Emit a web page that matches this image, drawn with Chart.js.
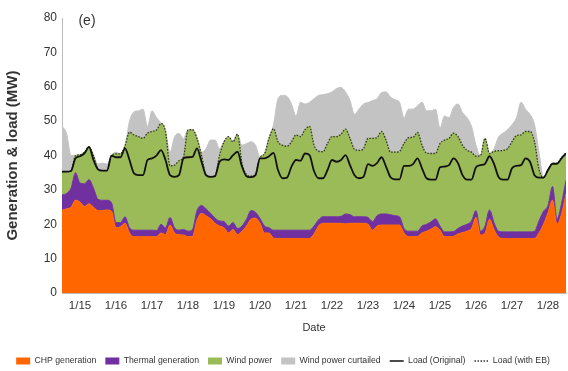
<!DOCTYPE html>
<html>
<head>
<meta charset="utf-8">
<script src="https://cdn.jsdelivr.net/npm/chart.js@4"></script>
<style>
  html, body { margin: 0; padding: 0; background: #fff; }
</style>
</head>
<body>
<canvas id="myChart" width="568" height="371"></canvas>
<script>
// 3-hourly values, 1/15 00:00 .. 1/29 00:00 (MW)
const dayLabels = ['1/15', '1/16', '1/17', '1/18', '1/19', '1/20', '1/21',
                   '1/22', '1/23', '1/24', '1/25', '1/26', '1/27', '1/28']

const chp = [
  24.1, 24.5, 25, 27, 26.5, 25.2, 26, 25,
  24, 24, 24.2, 23.8, 19, 19.3, 20.3, 17.5,
  16.4, 16.4, 16.4, 16.4, 16.4, 16.4, 17.5, 17,
  19.8, 17.5, 17, 16.9, 16.4, 16.5, 21.2, 23.2,
  22.5, 21.6, 20.3, 19.5, 19, 17.5, 18.5, 17,
  18, 19.5, 21.5, 21.8, 20.3, 17.5, 17.5, 16,
  15.9, 15.9, 15.9, 15.9, 15.9, 15.9, 15.9, 15.9,
  17.2, 19.5, 20.3, 20.3, 20.3, 20.3, 20.3, 20.1,
  20.3, 20.3, 20.3, 20.3, 20, 18.3, 19.5, 19.8,
  19.8, 19.8, 19.8, 19.8, 17.5, 16.4, 16.4, 16.5,
  17.5, 18, 18.6, 19.3, 18.3, 16.4, 16.4, 16.5,
  17.2, 17.6, 18, 18.8, 22, 16.9, 17.5, 21.5,
  18.5, 16.3, 15.9, 15.9, 15.9, 15.9, 15.9, 15.9,
  15.9, 15.9, 17.5, 20, 23.4, 27, 20, 23,
  28.9
]

const thermal = [
  4.4, 4.5, 5.5, 8, 5.5, 6.6, 7, 5.5,
  3.3, 3, 2.8, 2.5, 1.5, 1.2, 1.9, 1.5,
  1.9, 1.9, 1.9, 1.9, 1.9, 1.8, 2.5, 2,
  2.2, 1.5, 1.3, 1.6, 1.6, 2, 2.8, 2.3,
  2, 1.6, 1.5, 1.5, 1.8, 2, 2, 1.8,
  1.5, 2, 2.5, 1.7, 1.4, 2, 1.5, 2.3,
  2.4, 2.4, 2.4, 2.4, 2.4, 2.4, 2.4, 2.4,
  2.3, 1.8, 1.9, 1.9, 1.9, 1.9, 2, 2.9,
  2.5, 1.9, 1.9, 1.9, 2, 2.5, 3, 3.2,
  3.2, 3, 2.7, 2.4, 1.3, 1.6, 1.6, 1.5,
  2, 2, 2.1, 2.3, 1.2, 1.4, 1.4, 1.4,
  1.6, 1.9, 2, 2.2, 2, 1.1, 2, 2.7,
  2, 1.7, 1.9, 1.9, 1.9, 1.9, 1.9, 1.9,
  1.9, 2.1, 3.5, 3.8, 2.1, 4, 1.5, 3,
  3.9
]

const wind = [
  6.8, 6.3, 5, 5, 8.2, 9.2, 9.5, 9.5,
  8.7, 8.6, 8.6, 13.7, 20, 20, 20.6, 27.8,
  27.7, 27.2, 26.7, 28.2, 28.7, 29.2, 29.3, 28,
  15, 18.2, 20.2, 21.1, 29.4, 29, 21, 14.6,
  9.8, 10.6, 12.2, 19, 23.2, 26, 23.5, 27.4,
  18.2, 13, 10, 11, 17.8, 21, 26, 29.5,
  25.7, 24.7, 24.4, 25.7, 27.7, 27.2, 29.2, 30.2,
  23.5, 20, 18.9, 21.3, 23.3, 23.3, 23.9, 24.7,
  22.2, 19.6, 19.3, 19.8, 23, 24.2, 22.7, 24,
  21.5, 18.2, 18.5, 19, 24.7, 27.2, 27.3, 28.7,
  23.5, 20.7, 19.9, 19, 24, 26.7, 27.2, 28.6,
  26.7, 23.5, 21.5, 20, 15.8, 22, 25.5, 16.4,
  20.7, 23.4, 23.7, 24.2, 26.2, 28, 28.2, 29.2,
  29.2, 26, 15, 9.8, 10.3, 6.8, 16.3, 13.4,
  8
]

const curtailed = [
  13.2, 11.2, 4.5, 0, 0, 0, 0, 0,
  1.5, 2.2, 1.9, 0, 0.5, 0, 0, 3.2,
  6.7, 7.5, 8.5, 2, 6, 3.6, 0.2, 0,
  4, 8.2, 7.9, 5.3, 0.1, 0, 0, 0.9,
  7.7, 10.7, 10.5, 2, 0, 0, 0, 0,
  5.3, 9, 10, 8.5, 0, 0, 0, 1.2,
  12.5, 14.5, 14.5, 11, 5.5, 10, 7.5, 7,
  13.5, 16.2, 16.6, 14.5, 13, 14, 13.6, 10.8,
  11, 10.2, 12, 13, 10.4, 11, 11.3, 11.3,
  14, 16, 15.2, 14.3, 7.5, 8.3, 8.2, 7.8,
  12.5, 12.3, 12.4, 12.9, 4.5, 7, 6, 7.5,
  9.5, 9.5, 9.5, 7.5, 3.2, 0, 0, 0,
  0.8, 4, 5, 5.5, 5, 5.2, 9.5, 6.5,
  5, 5, 5, 0.2, 0, 0, 0, 0,
  0
]

const loadOriginal = [
  35.3, 35.3, 35.5, 39.2, 39.8, 40.6, 42.5, 38.7,
  36, 35.6, 35.6, 40, 39.5, 39.5, 42.1, 38.7,
  34.8, 34.3, 34.3, 38.7, 39.2, 40, 41.6, 38.7,
  34.3, 33.8, 34.3, 39.2, 39.5, 39.6, 42.1, 38.2,
  34.3, 33.8, 34, 38.2, 38.9, 38.7, 40.1, 41.1,
  36.8, 34, 33.7, 34.3, 39.2, 39.2, 39.8, 40.8,
  35.8, 33.4, 33.6, 36.8, 38.7, 38.5, 40.6, 40.1,
  35.5, 33.4, 33.4, 35.8, 38.7, 38.2, 38.7, 40.1,
  37.2, 34.3, 33.4, 33.8, 37.5, 37, 37.8, 39.5,
  36.8, 33.7, 33.1, 33.1, 37, 37, 37.5, 39.2,
  36.3, 33.4, 33, 33, 36.6, 36.8, 37.2, 39.2,
  37.8, 34.3, 33, 33, 36.6, 37.2, 37.6, 39.8,
  37.6, 33.8, 33, 33, 36.3, 37, 37.2, 39.2,
  38.2, 34.3, 33.6, 33.6, 35.8, 37.6, 37.6, 39.2,
  40.6
]

const loadWithEB = [
  35.3, 35.3, 35.5, 40, 40.2, 41, 42.5, 40,
  36, 35.6, 35.6, 40, 40.5, 40.5, 42.8, 46.8,
  46, 45.5, 45, 46.5, 47, 47.4, 49.3, 47,
  37, 37.2, 38.5, 39.6, 47.4, 47.5, 45, 40.1,
  34.3, 33.8, 34, 40, 44, 45.5, 44, 46.2,
  37.7, 34.5, 34, 34.5, 39.5, 40.5, 45, 47.8,
  44, 43, 42.7, 44, 46, 45.5, 47.5, 48.5,
  43, 41.3, 41.1, 43.5, 45.5, 45.5, 46.2, 47.7,
  45, 41.8, 41.5, 42, 45, 45, 45.2, 47,
  44.5, 41, 41, 41.2, 43.5, 45.2, 45.3, 46.7,
  43, 40.7, 40.6, 40.6, 43.5, 44.5, 45, 46.5,
  45.5, 43, 41.5, 41, 39.8, 40, 45, 40.6,
  41.2, 41.4, 41.5, 42, 44, 45.8, 46, 47,
  47, 44, 36, 33.6, 35.8, 37.8, 37.8, 39.4,
  40.8
]

const hours = chp.map((_, i) => i * 3)

const legendNames = ['CHP generation', 'Thermal generation', 'Wind power',
                     'Wind power curtailed', 'Load (Original)', 'Load (with EB)']
const colors = ['#FF6600', '#7030A0', '#9BBB59', '#C3C3C3', '#111111', '#333333']
const panelLabel = '(e)'

const fontFamily = '"Liberation Sans", Arial, sans-serif'

const area = (label, data, i, fill) => ({
    label: label,
    data: data,
    backgroundColor: colors[i],
    borderColor: colors[i],
    borderWidth: 1,
    fill: fill,
    pointRadius: 0,
    cubicInterpolationMode: 'monotone',
    order: 1
})

const panelLabelPlugin = {
    id: 'panelLabel',
    afterDraw(chart) {
        const { ctx, chartArea } = chart
        ctx.save()
        ctx.font = '14px ' + fontFamily
        ctx.fillStyle = '#333'
        ctx.textAlign = 'center'
        ctx.textBaseline = 'middle'
        ctx.fillText(panelLabel, chartArea.left + 25, chartArea.top + 3)
        ctx.restore()
    }
}

const data = {
    labels: hours,
    datasets: [
        area(legendNames[0], chp, 0, 'origin'),
        area(legendNames[1], thermal, 1, '-1'),
        area(legendNames[2], wind, 2, '-1'),
        area(legendNames[3], curtailed, 3, '-1'),
        {
            label: legendNames[4],
            data: loadOriginal,
            stack: 'orig',
            borderColor: colors[4],
            borderWidth: 1.8,
            fill: false,
            pointRadius: 0,
            cubicInterpolationMode: 'monotone',
            order: 0
        },
        {
            label: legendNames[5],
            data: loadWithEB,
            stack: 'eb',
            borderColor: colors[5],
            borderWidth: 1.3,
            borderDash: [1.5, 1.5],
            fill: false,
            pointRadius: 0,
            cubicInterpolationMode: 'monotone',
            order: 0
        }
    ]
}

const config = {
    type: 'line',
    data: data,
    options: {
        responsive: false,
        animation: false,
        events: [],
        layout: { padding: { left: 0, right: 2, top: 18, bottom: 0 } },
        scales: {
            x: {
                type: 'linear',
                min: 0,
                max: 336,
                afterBuildTicks: (s) => {
                    s.ticks = dayLabels.map((_, i) => ({ value: 12 + 24 * i }))
                },
                afterFit: (s) => { s.height = 54.6 },
                ticks: {
                    callback: (v, i) => dayLabels[i],
                    autoSkip: false,
                    maxRotation: 0,
                    padding: 6,
                    color: '#333',
                    font: { family: fontFamily, size: 11.5 }
                },
                grid: { display: false, drawTicks: false },
                border: { color: '#bbbbbb' },
                title: {
                    display: true,
                    text: 'Date',
                    color: '#333',
                    font: { family: fontFamily, size: 11 },
                    padding: { top: 0, bottom: 13.6 }
                }
            },
            y: {
                stacked: true,
                min: 0,
                max: 80,
                afterFit: (s) => { s.width = 62 },
                ticks: {
                    stepSize: 10,
                    padding: 5,
                    color: '#333',
                    font: { family: fontFamily, size: 12 }
                },
                grid: { display: false, drawTicks: false },
                border: { color: '#bbbbbb' },
                title: {
                    display: true,
                    text: 'Generation & load (MW)',
                    color: '#333',
                    font: { family: fontFamily, size: 15, weight: 'bold' },
                    padding: { top: 4, bottom: 0 }
                }
            }
        },
        plugins: {
            tooltip: { enabled: false },
            legend: {
                position: 'bottom',
                maxHeight: 23.3,
                labels: {
                    usePointStyle: true,
                    pointStyleWidth: 14,
                    boxHeight: 7,
                    padding: 9,
                    color: '#333',
                    font: { family: fontFamily, size: 8.7 },
                    generateLabels: () => legendNames.map((name, i) => ({
                        text: name,
                        fillStyle: colors[i],
                        strokeStyle: colors[i],
                        lineWidth: i >= 4 ? 1.5 : 0,
                        lineDash: i === 5 ? [1.5, 1.5] : [],
                        pointStyle: i >= 4 ? 'line' : 'rect',
                        fontColor: '#333',
                        hidden: false,
                        datasetIndex: i
                    }))
                }
            }
        }
    },
    plugins: [panelLabelPlugin]
}

const myChart = new Chart(document.getElementById('myChart'), config)
</script>
</body>
</html>
